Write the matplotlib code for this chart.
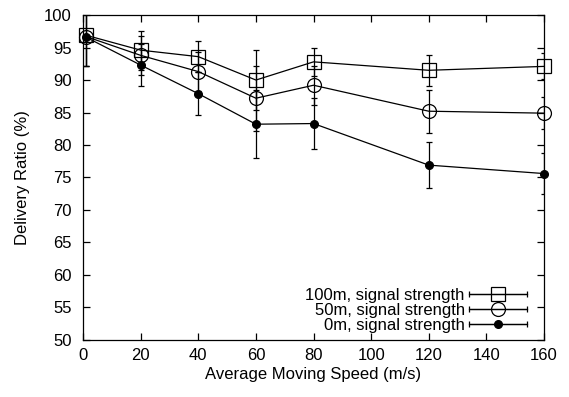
import matplotlib
matplotlib.use('Agg')
import matplotlib.pyplot as plt
from matplotlib.lines import Line2D
from matplotlib.collections import LineCollection
from matplotlib.container import ErrorbarContainer
from matplotlib.legend_handler import HandlerErrorbar

plt.rcParams['font.family'] = ['Liberation Sans', 'DejaVu Sans']

# average moving speed (m/s)
speed = [1, 20, 40, 60, 80, 120, 160]

# delivery ratio (%) and error
ratio_100 = [96.9, 94.6, 93.6, 90.0, 92.8, 91.5, 92.1]
err_100 = [4.8, 3.0, 2.4, 4.6, 2.2, 2.4, 2.0]
ratio_50 = [96.7, 93.8, 91.3, 87.2, 89.2, 85.2, 84.9]
err_50 = [4.6, 3.0, 3.0, 5.0, 3.0, 3.3, 2.5]
ratio_0 = [96.6, 92.3, 87.9, 83.2, 83.3, 76.9, 75.6]
err_0 = [4.5, 3.2, 3.3, 5.2, 3.9, 3.5, 3.1]

labels = ['100m, signal strength', '50m, signal strength', '0m, signal strength']

FS = 12
LW = 0.9
CAP = 2.2

fig = plt.figure(figsize=(5.69, 3.97), dpi=100)
ax = fig.add_axes([0.146, 0.144, 0.810, 0.818])

styles = [
    dict(marker='s', ms=9.5, mfc='none', mec='black', mew=LW),
    dict(marker='o', ms=10, mfc='none', mec='black', mew=LW),
    dict(marker='o', ms=5.5, mfc='black', mec='black'),
]

for ys, es, st in zip([ratio_100, ratio_50, ratio_0], [err_100, err_50, err_0], styles):
    eb = ax.errorbar(speed, ys, yerr=es, color='black', lw=LW, elinewidth=LW,
                     capsize=CAP, capthick=LW, **st)
    eb.lines[0].set_clip_on(False)

# legend handles: gnuplot-style horizontal error bar sample
handles = []
for st in styles:
    line = Line2D([], [], color='black', lw=LW, **st)
    cap = Line2D([], [], color='black', marker='|', ms=2 * CAP, mew=LW, ls='none')
    bars = LineCollection([], colors='black', linewidths=LW)
    handles.append(ErrorbarContainer((line, (cap, cap), (bars,)),
                                     has_xerr=True, has_yerr=False))

ax.set_xlim(0, 160)
ax.set_ylim(50, 100)
ax.set_xticks(range(0, 161, 20))
ax.set_yticks(range(50, 101, 5))
ax.tick_params(direction='in', top=True, right=True, length=5, width=LW, labelsize=FS)
ax.tick_params(axis='y', pad=8)
ax.tick_params(axis='x', pad=6)
for s in ax.spines.values():
    s.set_linewidth(LW)

ax.set_xlabel('Average Moving Speed (m/s)', fontsize=FS, labelpad=3)
ax.set_ylabel('Delivery Ratio (%)', fontsize=FS, labelpad=10)

hl = 3.5
leg = ax.legend(handles, labels, loc='lower right', bbox_to_anchor=(0.978, 0.0),
                markerfirst=False, frameon=False, fontsize=FS, handlelength=hl,
                handletextpad=0.25, labelspacing=0.0, borderaxespad=0.0,
                handler_map={ErrorbarContainer: HandlerErrorbar(xerr_size=hl / 2)})

fig.savefig('out.png', dpi=100)
